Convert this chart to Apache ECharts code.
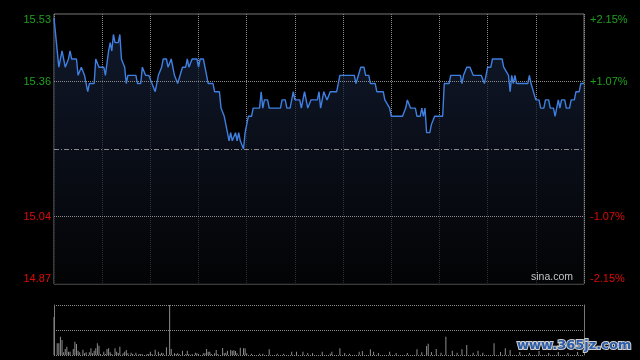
<!DOCTYPE html>
<html>
<head>
<meta charset="utf-8">
<script src="https://cdn.jsdelivr.net/npm/echarts@6/dist/echarts.min.js"></script>
<style>
html,body{margin:0;padding:0;background:#000;}
#chart{width:640px;height:360px;}
</style>
</head>
<body>
<div id="chart"></div>
<script>
// ---- data (minutes since 09:30, HK session 330 minutes) ----
const axisMin = 14.87;
const axisMax = 15.53;
const leftLabels  = ['14.87', '15.04', '', '15.36', '15.53'];
const rightLabels = ['-2.15%', '-1.07%', '', '+1.07%', '+2.15%'];
const labelUp = [false, false, false, true, true];

const priceTimes = [0,1,3,5,7,8,9,10,11,14,15,16,17,18,19,20,21,22,25,26,28,31,32,34,35,36,37,38,40,41,42,43,44,45,46,51,52,54,55,57,59,61,62,63,65,67,68,70,71,73,75,76,77,78,80,82,83,84,86,89,90,91,93,95,96,99,100,103,104,106,107,108,109,110,111,112,113,114,115,116,118,119,120,121,123,124,128,129,130,131,133,134,141,142,144,145,147,149,150,153,154,156,157,158,159,160,164,165,166,168,169,170,171,172,176,178,187,188,189,191,193,194,196,197,200,201,205,206,207,209,210,217,219,220,222,225,226,228,229,230,231,232,234,235,236,237,242,243,246,247,253,254,255,256,257,259,261,266,268,269,270,272,273,279,280,281,283,284,285,286,287,288,295,296,297,298,300,302,303,305,306,308,309,311,312,314,315,316,318,319,321,322,324,325,327,328,330];
const prices = [15.52,15.52,15.40,15.44,15.40,15.40,15.42,15.44,15.42,15.42,15.38,15.38,15.40,15.40,15.38,15.38,15.34,15.36,15.36,15.42,15.40,15.40,15.38,15.44,15.46,15.44,15.48,15.46,15.46,15.48,15.42,15.42,15.40,15.36,15.38,15.38,15.36,15.36,15.40,15.38,15.38,15.36,15.36,15.34,15.38,15.40,15.42,15.42,15.40,15.42,15.38,15.38,15.36,15.36,15.40,15.40,15.42,15.40,15.42,15.42,15.40,15.42,15.42,15.38,15.36,15.36,15.34,15.34,15.30,15.28,15.28,15.24,15.22,15.24,15.22,15.22,15.24,15.22,15.24,15.22,15.20,15.24,15.26,15.28,15.28,15.30,15.30,15.34,15.30,15.32,15.32,15.30,15.30,15.32,15.32,15.30,15.30,15.34,15.32,15.32,15.30,15.34,15.32,15.30,15.30,15.32,15.32,15.34,15.30,15.34,15.34,15.32,15.32,15.34,15.34,15.38,15.38,15.36,15.36,15.40,15.40,15.38,15.38,15.36,15.36,15.34,15.34,15.32,15.32,15.30,15.28,15.28,15.30,15.32,15.30,15.30,15.28,15.28,15.30,15.28,15.30,15.24,15.24,15.26,15.26,15.28,15.28,15.36,15.36,15.38,15.38,15.36,15.38,15.38,15.40,15.40,15.38,15.38,15.36,15.36,15.40,15.40,15.42,15.42,15.40,15.40,15.38,15.34,15.38,15.36,15.38,15.36,15.36,15.38,15.36,15.36,15.32,15.32,15.30,15.30,15.32,15.32,15.30,15.30,15.28,15.32,15.30,15.32,15.32,15.30,15.30,15.32,15.32,15.34,15.34,15.36,15.36];

const volTimes = [0,2,3,4,5,6,7,8,9,10,12,13,14,15,16,18,19,20,22,23,24,25,26,27,28,29,31,32,33,34,35,36,38,39,40,41,43,44,45,46,48,49,51,53,54,55,58,59,60,61,63,65,66,67,68,70,72,73,75,76,77,78,80,82,83,84,86,88,89,90,93,94,95,96,97,98,100,101,102,105,106,107,108,110,111,112,113,114,116,118,119,120,123,128,130,134,139,143,148,151,155,158,161,167,172,173,178,181,184,190,192,197,199,202,209,213,220,226,229,232,233,235,238,241,244,248,251,254,257,261,264,267,274,278,281,284,290,296,302,308,314,320,326];
const volumes = [38,11.7,11.7,18.3,15,2.7,6,8.3,3.3,3.3,6,13.3,11,4.3,2.7,5.3,1.7,2.7,2.7,6.7,1.7,4.3,6.7,11.7,9.3,1,3.3,1,6,6.7,2.7,1,6.7,3.3,2,8.3,1.7,3.3,5,1.7,2.3,1,2.3,1,1,0.7,1,1,3.3,1,5.3,3.3,1,2.3,1.7,7.7,50,6,1.7,1,1.7,1,4.3,1,4.3,1,1,2.3,1.7,1,1.7,1.7,6,3.3,3.3,1,1.7,5,1,7,1.7,2.3,4.3,5,4.3,4.7,4,1.7,7.3,6.7,6.7,1.7,1.3,1.3,1.3,5.7,1.3,1.3,3.3,3.3,3.3,2,2,3.3,1.3,3.3,6.7,2,1.3,3.3,4,5.7,3.3,2,3.3,2,2,5.7,2.7,9,11.3,3,6,2.3,18.3,4.3,2.3,5.7,10,2.3,4.3,2.3,11.7,3,6.7,5,3,2,4,2,3,2,3];

const pricePoints = priceTimes.map((t, i) => [t, (prices[i] - axisMin) * 100]);
const volPoints = volTimes.map((t, i) => [t, volumes[i]]);
const span = (axisMax - axisMin) * 100; // 66
const step = span / 4;

const dotted = { color: '#8a8a8a', width: 1, type: [1, 1] };
const chart = echarts.init(document.getElementById('chart'), null, { renderer: 'canvas' });

function lab(arr, v) {
  const i = Math.round(v / step);
  const t = arr[i];
  if (!t) return '';
  return '{' + (labelUp[i] ? 'g' : 'r') + '|' + t + '}';
}
const richCol = {
  g: { color: '#1fa01f', fontSize: 11, fontFamily: 'Liberation Sans' },
  r: { color: '#dd0a0a', fontSize: 11, fontFamily: 'Liberation Sans' }
};

chart.setOption({
  animation: false,
  backgroundColor: '#000',
  grid: [
    { left: 54, top: 14, right: 56, bottom: 76, show: true, borderColor: '#777', borderWidth: 1, backgroundColor: 'transparent' },
    { left: 54, top: 305, right: 56, bottom: 5 }
  ],
  xAxis: [
    { gridIndex: 0, type: 'value', min: 0, max: 330, interval: 30,
      axisLine: { show: false }, axisTick: { show: false }, axisLabel: { show: false },
      splitLine: { show: true, lineStyle: dotted } },
    { gridIndex: 1, type: 'value', min: 0, max: 330, interval: 30,
      axisLine: { show: false }, axisTick: { show: false }, axisLabel: { show: false },
      splitLine: { show: false } }
  ],
  yAxis: [
    { gridIndex: 0, type: 'value', position: 'left', min: 0, max: span, interval: step,
      axisLine: { show: false }, axisTick: { show: false }, splitLine: { show: false },
      axisLabel: { show: true, margin: 3, formatter: v => lab(leftLabels, v), rich: richCol,
        verticalAlignMinLabel: 'bottom', verticalAlignMaxLabel: 'top' } },
    { gridIndex: 0, type: 'value', position: 'right', min: 0, max: span, interval: step,
      axisLine: { show: false }, axisTick: { show: false }, splitLine: { show: false },
      axisLabel: { show: true, margin: 6, formatter: v => lab(rightLabels, v), rich: richCol,
        verticalAlignMinLabel: 'bottom', verticalAlignMaxLabel: 'top' } },
    { gridIndex: 1, type: 'value', position: 'left', min: 0, max: 50, interval: 25,
      axisLine: { show: true, lineStyle: { color: '#777', width: 1 } }, axisTick: { show: false },
      axisLabel: { show: false }, splitLine: { show: true, lineStyle: dotted } },
    { gridIndex: 1, type: 'value', position: 'right', min: 0, max: 50, interval: 25,
      axisLine: { show: true, lineStyle: { color: '#777', width: 1 } }, axisTick: { show: false },
      axisLabel: { show: false }, splitLine: { show: false } }
  ],
  series: [
    { type: 'line', xAxisIndex: 0, yAxisIndex: 0, data: pricePoints, symbol: 'none',
      lineStyle: { color: '#3f7fe0', width: 1.4 },
      areaStyle: { color: new echarts.graphic.LinearGradient(0, 0, 0, 1, [
        { offset: 0, color: '#17233d' }, { offset: 1, color: '#040507' }]) },
      markLine: { silent: true, symbol: 'none', label: { show: false },
        data: [
          { yAxis: step, lineStyle: dotted },
          { yAxis: step * 2, lineStyle: { color: '#8a8a8a', width: 1, type: [5, 2, 1, 2] } },
          { yAxis: step * 3, lineStyle: dotted }
        ] } },
    { type: 'bar', xAxisIndex: 1, yAxisIndex: 2, data: volPoints, barWidth: 1,
      itemStyle: { color: '#8c8c8c' } }
  ],
  graphic: [
    { type: 'text', right: 67, bottom: 77, z: 10,
      style: { text: 'sina.com', fill: '#c4c4c4', font: '10.5px "Liberation Sans"' } },
    { type: 'text', left: 516, top: 338, z: 20,
      style: { text: 'www.365jz.com', fill: '#2b5ca8', stroke: '#cfcfcf', lineWidth: 2,
        font: 'bold 13px "DejaVu Sans"' } }
  ]
});
</script>
</body>
</html>
